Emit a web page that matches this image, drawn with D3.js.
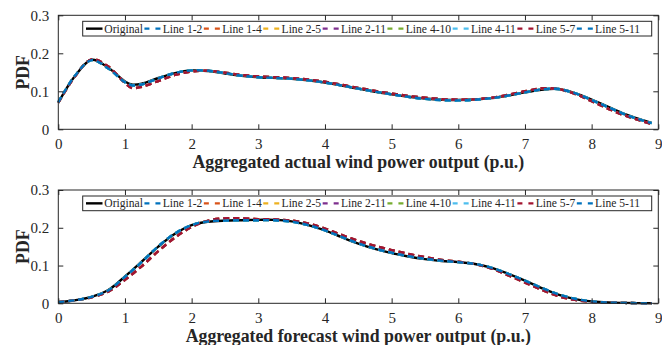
<!DOCTYPE html>
<html>
<head>
<meta charset="utf-8">
<script src="https://cdn.jsdelivr.net/npm/d3@7"></script>
<style>
  body { margin: 0; background: #fff; }
  svg { display: block; font-family: "Liberation Serif", "Times New Roman", serif; }
</style>
</head>
<body>
<div id="chart"></div>
<script>
// ---- data ----
var seriesNames = ['Original', 'Line 1-2', 'Line 1-4', 'Line 2-5', 'Line 2-11', 'Line 4-10', 'Line 4-11', 'Line 5-7', 'Line 5-11'];
var seriesColors = ['#000000', '#0072BD', '#D95319', '#EDB120', '#7E2F8E', '#77AC30', '#4DBEEE', '#A2142F', '#0072BD'];
// which curve each series follows: 0 = original, 1 = close to original, 2 = slightly shifted
var seriesCurve = [0, 1, 2, 2, 2, 1, 1, 2, 1];

var xTicks = [0, 1, 2, 3, 4, 5, 6, 7, 8, 9];
var yTicks = [0, 0.1, 0.2, 0.3];

var actualX = [0, 0.25, 0.5, 0.75, 1, 1.1, 1.25, 1.5, 1.75, 2, 2.25, 2.5, 2.75, 3, 3.5, 4, 4.5, 5, 5.5, 6, 6.5, 7, 7.25, 7.5, 7.75, 8, 8.25, 8.5, 8.75, 8.9];
var actualOriginal = [0.070, 0.140, 0.183, 0.162, 0.126, 0.118, 0.120, 0.135, 0.148, 0.155, 0.153, 0.147, 0.141, 0.137, 0.133, 0.123, 0.107, 0.092, 0.081, 0.077, 0.082, 0.097, 0.104, 0.106, 0.095, 0.078, 0.059, 0.040, 0.025, 0.017];
var actualClose = [0.071, 0.141, 0.182, 0.160, 0.124, 0.116, 0.118, 0.134, 0.148, 0.155, 0.154, 0.148, 0.141, 0.137, 0.133, 0.123, 0.107, 0.092, 0.080, 0.076, 0.082, 0.097, 0.105, 0.106, 0.095, 0.077, 0.058, 0.039, 0.024, 0.016];
var actualShifted = [0.070, 0.139, 0.184, 0.165, 0.122, 0.109, 0.112, 0.127, 0.143, 0.152, 0.154, 0.149, 0.143, 0.139, 0.135, 0.125, 0.109, 0.094, 0.083, 0.078, 0.083, 0.100, 0.108, 0.106, 0.093, 0.074, 0.054, 0.036, 0.022, 0.014];

var forecastX = [0, 0.25, 0.5, 0.75, 1, 1.25, 1.5, 1.75, 2, 2.25, 2.5, 2.75, 3, 3.25, 3.5, 3.75, 4, 4.25, 4.5, 4.75, 5, 5.25, 5.5, 5.75, 6, 6.25, 6.5, 6.75, 7, 7.25, 7.5, 7.75, 8, 8.25, 8.5, 8.9];
var forecastOriginal = [0.003, 0.008, 0.017, 0.035, 0.071, 0.110, 0.150, 0.184, 0.207, 0.216, 0.219, 0.220, 0.221, 0.221, 0.217, 0.207, 0.193, 0.175, 0.158, 0.144, 0.133, 0.124, 0.117, 0.112, 0.109, 0.104, 0.094, 0.078, 0.060, 0.040, 0.023, 0.011, 0.005, 0.002, 0.001, 0.000];
var forecastClose = [0.003, 0.008, 0.017, 0.034, 0.070, 0.109, 0.151, 0.185, 0.207, 0.217, 0.219, 0.220, 0.220, 0.220, 0.216, 0.207, 0.193, 0.176, 0.159, 0.145, 0.134, 0.125, 0.118, 0.113, 0.109, 0.104, 0.094, 0.078, 0.060, 0.041, 0.024, 0.012, 0.005, 0.002, 0.001, 0.000];
var forecastShifted = [0.003, 0.008, 0.016, 0.031, 0.062, 0.098, 0.138, 0.174, 0.202, 0.219, 0.225, 0.225, 0.223, 0.222, 0.219, 0.211, 0.198, 0.181, 0.165, 0.152, 0.141, 0.131, 0.122, 0.115, 0.110, 0.104, 0.092, 0.074, 0.055, 0.036, 0.019, 0.009, 0.004, 0.002, 0.001, 0.000];

var width = 662, height = 345;

var svg = d3.select('#chart').append('svg')
    .attr('width', width)
    .attr('height', height);

var panels = [
    { top: 15.3, bottom: 129.3, xs: actualX, curves: [actualOriginal, actualClose, actualShifted],
      label: 'Aggregated actual wind power output (p.u.)' },
    { top: 190, bottom: 303.3, xs: forecastX, curves: [forecastOriginal, forecastClose, forecastShifted],
      label: 'Aggregated forecast wind power output (p.u.)' }
];

var left = 58.3, right = 658.3;
var serif = '"Liberation Serif", "Times New Roman", serif';

panels.forEach(function (p) {
    var x = d3.scaleLinear().domain([0, 9]).range([left, right]);
    var y = d3.scaleLinear().domain([0, 0.3]).range([p.bottom, p.top]);

    var g = svg.append('g');

    var line = d3.line()
        .x(function (d) { return x(d[0]); })
        .y(function (d) { return y(d[1]); })
        .curve(d3.curveCatmullRom.alpha(0.5));

    seriesNames.forEach(function (name, i) {
        var vals = p.curves[seriesCurve[i]];
        var pts = p.xs.map(function (xv, k) { return [xv, vals[k]]; });
        g.append('path')
            .datum(pts)
            .attr('d', line)
            .attr('fill', 'none')
            .attr('stroke', seriesColors[i])
            .attr('stroke-width', 2.4)
            .attr('stroke-dasharray', i === 0 ? null : '6,4');
    });

    // box + ticks (MATLAB style, inward)
    var axisColor = '#262626';
    g.append('rect')
        .attr('x', left).attr('y', p.top)
        .attr('width', right - left).attr('height', p.bottom - p.top)
        .attr('fill', 'none').attr('stroke', axisColor).attr('stroke-width', 1);

    var bottomAxis = d3.axisBottom(x).tickValues(xTicks).tickSizeInner(-5).tickSizeOuter(0).tickPadding(9)
        .tickFormat(d3.format('d'));
    var ax = g.append('g').attr('transform', 'translate(0,' + p.bottom + ')').call(bottomAxis);
    var topAxis = d3.axisTop(x).tickValues(xTicks).tickSizeInner(-5).tickSizeOuter(0).tickFormat('');
    var at = g.append('g').attr('transform', 'translate(0,' + p.top + ')').call(topAxis);
    var leftAxis = d3.axisLeft(y).tickValues(yTicks).tickSizeInner(-5).tickSizeOuter(0).tickPadding(9)
        .tickFormat(function (d) { return d === 0 ? '0' : d3.format('.1f')(d); });
    var al = g.append('g').attr('transform', 'translate(' + left + ',0)').call(leftAxis);
    var rightAxis = d3.axisRight(y).tickValues(yTicks).tickSizeInner(-5).tickSizeOuter(0).tickFormat('');
    var ar = g.append('g').attr('transform', 'translate(' + right + ',0)').call(rightAxis);

    [ax, at, al, ar].forEach(function (a) {
        a.attr('font-family', serif);
        a.select('.domain').remove();
        a.selectAll('line').attr('stroke', axisColor);
        a.selectAll('text')
            .attr('fill', axisColor)
            .style('font-family', serif)
            .style('font-size', '15px');
    });

    // axis labels
    svg.append('text')
        .attr('x', (left + right) / 2)
        .attr('y', p.bottom + 39)
        .attr('text-anchor', 'middle')
        .style('font-family', serif)
        .style('font-size', '17.8px')
        .style('font-weight', 'bold')
        .attr('fill', axisColor)
        .text(p.label);

    svg.append('text')
        .attr('transform', 'translate(29,' + ((p.top + p.bottom) / 2) + ') rotate(-90)')
        .attr('text-anchor', 'middle')
        .style('font-family', serif)
        .style('font-size', '17.8px')
        .style('font-weight', 'bold')
        .attr('fill', axisColor)
        .text('PDF');

    // legend
    var lg = svg.append('g');
    var legTop = p.top + 6, legH = 14.7, legLeft = 82.7, legRight = 651.7;
    lg.append('rect')
        .attr('x', legLeft).attr('y', legTop)
        .attr('width', legRight - legLeft).attr('height', legH)
        .attr('fill', '#fff').attr('stroke', '#262626').attr('stroke-width', 1);

    var cx = legLeft + 3.3;
    var cy = legTop + legH / 2;
    seriesNames.forEach(function (name, i) {
        lg.append('line')
            .attr('x1', cx).attr('x2', cx + 16.5)
            .attr('y1', cy).attr('y2', cy)
            .attr('stroke', seriesColors[i])
            .attr('stroke-width', 2.4)
            .attr('stroke-dasharray', i === 0 ? null : '5,6');
        var t = lg.append('text')
            .attr('x', cx + 18.3)
            .attr('y', cy + 4)
            .style('font-family', serif)
            .style('font-size', '11.6px')
            .attr('fill', '#262626')
            .text(name);
        cx = cx + 18.3 + t.node().getComputedTextLength() + 1.5;
    });
});
</script>
</body>
</html>
